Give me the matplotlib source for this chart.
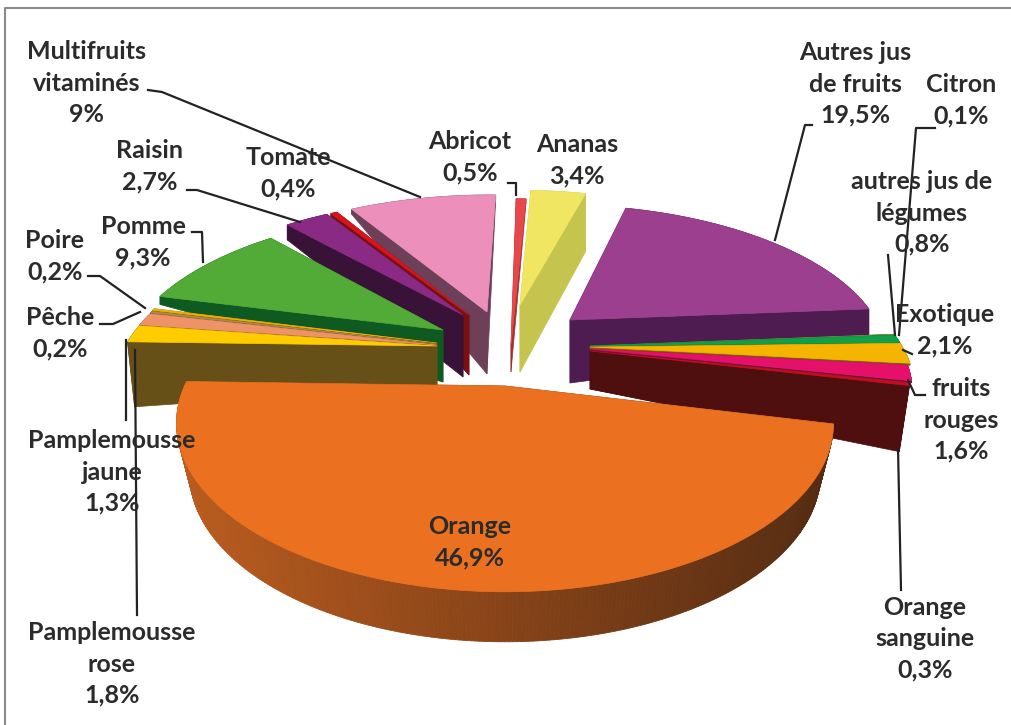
import numpy as np
import matplotlib
matplotlib.use('Agg')
import matplotlib.pyplot as plt
from matplotlib.patches import Polygon

plt.rcParams['font.family'] = ['Lato', 'DejaVu Sans']

names = ['Ananas', 'Autres jus\nde fruits', 'Citron', 'autres jus de\nlégumes', 'Exotique', 'fruits\nrouges',
         'Orange\nsanguine', 'Orange', 'Pamplemousse\nrose', 'Pamplemousse\njaune', 'Pêche', 'Poire', 'Pomme',
         'Raisin', 'Tomate', 'Multifruits\nvitaminés', 'Abricot']
values = [3.4, 19.5, 0.1, 0.8, 2.1, 1.6, 0.3, 46.9, 1.8, 1.3, 0.2, 0.2, 9.3, 2.7, 0.4, 9, 0.5]
value_text = ['3,4%', '19,5%', '0,1%', '0,8%', '2,1%', '1,6%', '0,3%', '46,9%', '1,8%', '1,3%', '0,2%', '0,2%',
              '9,3%', '2,7%', '0,4%', '9%', '0,5%']

top_col = ['#F0E661', '#9C3F8E', '#7A9A30', '#10A048', '#F5B400', '#E5106A', '#C01020', '#EB7120', '#FFCC00',
           '#EE9268', '#B08A40', '#F0B000', '#52AB36', '#8B2A85', '#D8141C', '#EC8FBA', '#E8484C']
side_col = ['#C4C44E', '#4E1C50', '#4E1C50', '#0F5A20', '#7A6010', '#7A1040', '#4E0F0E', '#5A3014', '#665018',
            '#6B4020', '#665018', '#665018', '#0F5A20', '#391238', '#7A1010', '#6E3F58', '#A03030']

# apex of each slice in pixels, radius, depth at apex / at rim, narrowing of the bottom edge
apex = [(520, 305), (570, 320), (590, 346), (590, 346), (590, 347), (590, 349), (590, 351), (505, 386), (437, 346),
        (437, 345), (437, 344), (437, 343), (443, 330), (463, 315), (469, 315), (487, 312), (511, 345)]
rad = [1.1, 1.05, 1.03, 1.03, 1.03, 1.02, 1.01, 1.0, 1.03, 1.03, 1.03, 1.03, 1.05, 1.08, 1.09, 1.1, 1.3]
dep_in = [67, 63, 2, 2, 2, 2, 38, 50, 40, 2, 2, 2, 52, 62, 60, 62, 27]
dep_out = [58, 35, 2, 2, 2, 2, 66, 50, 65, 2, 2, 2, 8, 15, 10, 5, 5]
shrink = [1, 1, 1, 1, 1, 1, 0.968, 0.96, 0.977, 1, 1, 1, 1, 1, 1, 1, 1]
draw_order = [16, 0, 15, 1, 14, 13, 12, 11, 10, 9, 8, 2, 3, 4, 5, 6, 7]

labels_at = [(577, 160), (855, 84), (961, 100), (922, 213), (945, 330), (961, 420), (925, 639), (470, 542), (112, 664),
             (112, 472), (60, 333), (55, 256), (143, 242), (150, 166), (288, 173), (87, 83), (470, 157)]

leaders = [[(148, 90), (162, 92), (420, 197)], [(187, 190), (197, 190), (300, 222)], [(508, 183), (516, 183), (516, 195)],
           [(192, 232), (202, 232), (203, 262)], [(88, 276), (100, 276), (145, 308)], [(100, 324), (113, 324), (140, 312)],
           [(126, 340), (126, 420)], [(135, 350), (137, 615)], [(812, 125), (805, 125), (775, 240)],
           [(935, 128), (916, 128), (899, 335)], [(888, 255), (895, 335)], [(903, 350), (912, 354)],
           [(908, 380), (915, 395), (925, 395)], [(898, 448), (901, 590)]]

cx, cy = 505, 385
a0, b0, k = 320, 160, 0.22
rot = 3


def project(X, Y):
    s = 1 / (1 + k * Y)
    return cx + a0 * X * s, cy - b0 * Y * s


def unproject(sx, sy):
    v = cy - sy
    Y = v / (b0 - k * v)
    return (sx - cx) * (1 + k * Y) / a0, Y


fig = plt.figure(figsize=(10.12, 7.25), dpi=100)
ax = fig.add_axes([0, 0, 1, 1])
ax.set_xlim(0, 1012)
ax.set_ylim(725, 0)
ax.axis('off')

# frame
ax.plot([5, 5, 1012], [725, 8, 8], color='#8a8a8a', lw=1.5)

edges = np.cumsum([0] + values) / sum(values) * 360 + rot

for i in draw_order:
    X0, Y0 = unproject(*apex[i])
    th = np.radians(np.linspace(edges[i], edges[i + 1], max(3, int(values[i] * 6))))
    px, py = project(X0 + rad[i] * np.sin(th), Y0 + rad[i] * np.cos(th))
    ax0, ay0 = apex[i]
    z = 2 + draw_order.index(i) * 0.1
    # rim
    low = py + dep_out[i]
    low_x = ax0 + (px - ax0) * shrink[i]
    for j in range(len(px) - 1):
        c = side_col[i]
        if i == 7:
            t = (px[j] - px.min()) / (px.max() - px.min())
            c = np.array([0.73, 0.36, 0.12]) * (1 - t) + np.array([0.33, 0.17, 0.07]) * t
        ax.add_patch(Polygon([(px[j], py[j]), (px[j + 1], py[j + 1]), (low_x[j + 1], low[j + 1]), (low_x[j], low[j])],
                             fc=c, ec=c, lw=0.6, zorder=z))
    # cut faces
    for e in (0, -1):
        ax.add_patch(Polygon([(ax0, ay0), (px[e], py[e]), (low_x[e], low[e]), (ax0, ay0 + dep_in[i])],
                             fc=side_col[i], ec=side_col[i], lw=0.5, zorder=z))
    # top
    ax.add_patch(Polygon(np.column_stack([np.r_[ax0, px], np.r_[ay0, py]]), fc=top_col[i], ec=top_col[i], lw=0.5, zorder=z))

for line in leaders:
    xs, ys = zip(*line)
    ax.plot(xs, ys, color='#222222', lw=1.6, zorder=5, solid_joinstyle='round')

for i in range(len(names)):
    ax.text(labels_at[i][0], labels_at[i][1], names[i] + '\n' + value_text[i], ha='center', va='center', ma='center',
            fontsize=18, fontweight='bold', color='#2b2b2b', linespacing=1.44, zorder=6)

fig.savefig('out.png', dpi=100)
